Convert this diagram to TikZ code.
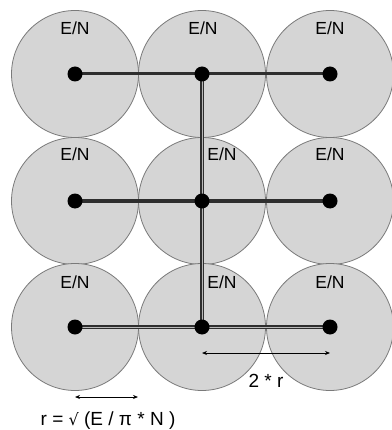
\documentclass[tikz,border=0pt]{standalone}
\usepackage{fontspec}
\setmainfont{Liberation Sans}
\newfontfamily\symfont{DejaVu Sans}
\usetikzlibrary{arrows.meta}
\definecolor{cellfill}{HTML}{D5D5D5}
\definecolor{celledge}{HTML}{7A7A7A}
\definecolor{linkc}{HTML}{2E2E2E}
\begin{document}
\begin{tikzpicture}[x=1pt,y=-1pt,
  cell/.style={circle,fill=cellfill,draw=celledge,line width=0.8pt,minimum size=127pt,inner sep=0pt},
  hub/.style={circle,fill=black,minimum size=15pt,inner sep=0pt},
  lab/.style={font=\fontsize{17.5}{17.5}\selectfont,inner sep=0pt},
  note/.style={font=\fontsize{19}{19}\selectfont,inner sep=0pt},
  solidlink/.style={draw=linkc,line width=3pt},
  dbllink/.style={draw=linkc,line width=1.3pt,double=gray!55,double distance=0.9pt},
  meas/.style={draw=black,line width=0.8pt,{Stealth[length=5pt,width=4pt]}-{Stealth[length=5pt,width=4pt]}}]
\useasboundingbox (0,0) rectangle (391,430);
% cells
\foreach \r/\y in {1/74,2/201,3/327}{
  \foreach \c/\x in {1/75,2/202,3/330}{
    \node[cell] (c\r\c) at (\x,\y) {};
  }
}
% labels
\node[lab] (l11) at (75,28) {E/N};
\node[lab] (l12) at (203,28) {E/N};
\node[lab] (l13) at (330,28) {E/N};
\node[lab] (l21) at (75,154) {E/N};
\node[lab] (l22) at (222,154) {E/N};
\node[lab] (l23) at (330,154) {E/N};
\node[lab] (l31) at (75,282) {E/N};
\node[lab] (l32) at (222,282) {E/N};
\node[lab] (l33) at (330,282) {E/N};
% hubs
\foreach \r/\y in {1/74,2/201,3/327}{
  \foreach \c/\x in {1/75,2/202,3/330}{
    \coordinate (h\r\c) at (\x,\y);
  }
}
% links
\draw[solidlink] (h11) -- (h13);
\draw[solidlink,line width=3.5pt] (h21) -- (h23);
\draw[dbllink] (h31) -- (h33);
\draw[dbllink] (h12) -- (h32);
\foreach \r in {1,2,3}{
  \foreach \c in {1,2,3}{
    \node[hub] (d\r\c) at (h\r\c) {};
  }
}
% measurements
\coordinate (m1a) at (202,353);
\coordinate (m1b) at (330,353);
\draw[meas] (m1a) -- (m1b);
\node[note] (tr2) at (266,381) {2 * r};
\coordinate (m2a) at (75,397);
\coordinate (m2b) at (138,397);
\draw[meas] (m2a) -- (m2b);
\node[note] (tr) at (108,421) {r = {\symfont\fontsize{16}{16}\selectfont√} (E / π * N )};
\end{tikzpicture}
\end{document}
